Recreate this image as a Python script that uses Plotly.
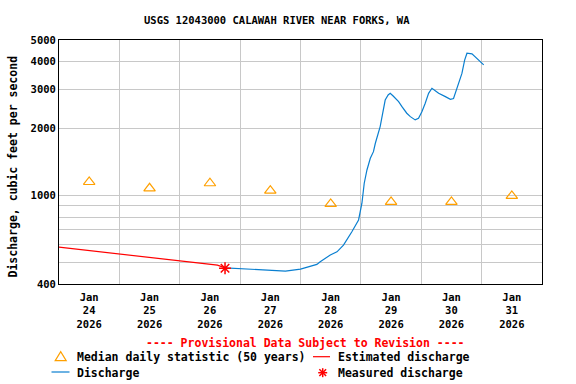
import plotly.graph_objects as go

# ---------------- data ----------------
est_time = ["2026-01-24 00:00", "2026-01-24 10:00", "2026-01-25 02:00",
            "2026-01-26 00:00", "2026-01-26 15:00", "2026-01-26 18:00"]
est_q = [586, 569, 542, 509, 486, 473]

meas_time = ["2026-01-26 18:00"]
meas_q = [471]

dis_time = ["2026-01-26 18:00", "2026-01-27 05:15", "2026-01-27 18:00",
            "2026-01-28 00:00", "2026-01-28 06:30", "2026-01-28 07:50",
            "2026-01-28 11:50", "2026-01-28 14:30", "2026-01-28 17:05",
            "2026-01-28 20:25", "2026-01-28 23:05", "2026-01-29 00:25",
            "2026-01-29 01:20", "2026-01-29 02:25", "2026-01-29 03:45",
            "2026-01-29 05:00", "2026-01-29 05:45", "2026-01-29 07:40",
            "2026-01-29 09:40", "2026-01-29 10:50", "2026-01-29 11:40",
            "2026-01-29 12:50", "2026-01-29 15:00", "2026-01-29 16:20",
            "2026-01-29 18:15", "2026-01-29 19:40", "2026-01-29 21:35",
            "2026-01-29 22:55", "2026-01-30 00:15", "2026-01-30 01:35",
            "2026-01-30 02:55", "2026-01-30 04:15", "2026-01-30 06:55",
            "2026-01-30 09:35", "2026-01-30 11:35", "2026-01-30 12:50",
            "2026-01-30 14:15", "2026-01-30 16:10", "2026-01-30 17:15",
            "2026-01-30 18:10", "2026-01-30 20:10", "2026-01-30 22:50",
            "2026-01-31 00:50"]
dis_q = [473, 467, 457,
         467, 490, 504,
         540, 558, 598,
         687, 776, 923,
         1135, 1302, 1469,
         1574, 1717, 2040,
         2686, 2832, 2879,
         2799, 2643, 2508,
         2343, 2262, 2187,
         2224, 2380, 2597,
         2879, 3033, 2879,
         2782, 2704, 2730,
         3033, 3537, 4063,
         4360, 4330, 4063,
         3866]

med_time = ["2026-01-24 12:00", "2026-01-25 12:00", "2026-01-26 12:00",
            "2026-01-27 12:00", "2026-01-28 12:00", "2026-01-29 12:00",
            "2026-01-30 12:00", "2026-01-31 12:00"]
med_q = [1150, 1077, 1135, 1051, 916, 935, 935, 995]

day_ticks = ["2026-01-%02d 12:00" % d for d in range(24, 32)]
day_labels = ["Jan<br>%d<br>2026" % d for d in range(24, 32)]
day_grid = ["2026-01-%02d" % d for d in range(25, 32)]

y_ticks = [400, 1000, 2000, 3000, 4000, 5000]
y_labels = ["400", "1000", "2000", "3000", "4000", "5000"]
y_minor = [500, 600, 700, 800, 900]

# ---------------- layout helpers ----------------
L, R, T, B = 59, 542, 40, 284
def px(x):
    return (x - L) / (R - L)
def py(y):
    return (B - y) / (B - T)

FONT = "DejaVu Sans Mono"
BLUE = "#0a7fd0"
RED = "#ff0000"
ORANGE = "#ffa000"
GRID = "#c8c8c8"

fig = go.Figure()

fig.add_trace(go.Scatter(x=est_time, y=est_q, mode="lines",
                         line=dict(color=RED, width=1.2), showlegend=False))
fig.add_trace(go.Scatter(x=dis_time, y=dis_q, mode="lines",
                         line=dict(color=BLUE, width=1.2), showlegend=False))
fig.add_trace(go.Scatter(x=med_time, y=med_q, mode="markers",
                         marker=dict(symbol="triangle-up-open", size=10, color=ORANGE,
                                     line=dict(color=ORANGE, width=1.2)),
                         showlegend=False))
fig.add_trace(go.Scatter(x=meas_time, y=meas_q, mode="markers",
                         marker=dict(symbol="asterisk-open", size=10, color=RED,
                                     line=dict(color=RED, width=1.5)),
                         showlegend=False))

# ---------------- legend (drawn as shapes + text) ----------------
def seg(x0, y0, x1, y1, color, w=1.2):
    return dict(type="line", xref="paper", yref="paper", x0=px(x0), x1=px(x1),
                y0=py(y0), y1=py(y1), line=dict(color=color, width=w))

tri_cx, tri_cy = 60.7, 356.7
tri_path = "M %f,%f L %f,%f L %f,%f Z" % (
    px(tri_cx - 5.5), py(tri_cy + 4), px(tri_cx + 5.5), py(tri_cy + 4),
    px(tri_cx), py(tri_cy - 5))
ast_cx, ast_cy, ar = 322.7, 372.7, 4.5
shapes = [
    seg(313, 356.7, 330, 356.7, RED),
    seg(51.5, 372, 69.5, 372, BLUE),
    dict(type="path", xref="paper", yref="paper", path=tri_path,
         line=dict(color=ORANGE, width=1.2)),
    seg(ast_cx - ar, ast_cy, ast_cx + ar, ast_cy, RED, 1.5),
    seg(ast_cx, ast_cy - ar, ast_cx, ast_cy + ar, RED, 1.5),
    seg(ast_cx - ar * 0.75, ast_cy - ar * 0.75, ast_cx + ar * 0.75, ast_cy + ar * 0.75, RED, 1.5),
    seg(ast_cx - ar * 0.75, ast_cy + ar * 0.75, ast_cx + ar * 0.75, ast_cy - ar * 0.75, RED, 1.5),
]

def txt(x, y, s, size=11.5, color="black", xanchor="left", angle=0):
    return dict(x=px(x), y=py(y), xref="paper", yref="paper", text=s, showarrow=False,
                xanchor=xanchor, yanchor="middle", textangle=angle,
                font=dict(family=FONT, size=size, color=color, weight="bold"))

annotations = [
    txt(277, 20, "USGS 12043000 CALAWAH RIVER NEAR FORKS, WA", size=10.5, xanchor="center"),
    txt(12, 166.5, "Discharge, cubic feet per second", size=11.5, xanchor="center", angle=-90),
    txt(305.5, 343.3, "---- Provisional Data Subject to Revision ----", size=11.5,
        color=RED, xanchor="center"),
    txt(74.5, 356.7, "Median daily statistic (50 years)"),
    txt(336, 356.7, "Estimated discharge"),
    txt(74.5, 372.7, "Discharge"),
    txt(336, 372.7, "Measured discharge"),
]

fig.update_layout(
    width=576, height=384,
    margin=dict(l=L, r=576 - R, t=T, b=384 - B, pad=0),
    paper_bgcolor="white", plot_bgcolor="white",
    showlegend=False,
    shapes=shapes, annotations=annotations,
    font=dict(family=FONT, size=10.5, color="black", weight="bold"),
    xaxis=dict(type="date", range=["2026-01-24", "2026-02-01"],
               tickmode="array", tickvals=day_ticks, ticktext=day_labels,
               showgrid=False, ticks="", showline=True, linecolor="black",
               linewidth=1, mirror=True, zeroline=False, ticklabelstandoff=3,
               tickfont=dict(family=FONT, size=10.5, weight="bold"),
               minor=dict(tickmode="array", tickvals=day_grid, showgrid=True,
                          gridcolor=GRID, gridwidth=1, ticks="")),
    yaxis=dict(type="log", range=[2.60206, 3.69897],
               tickmode="array", tickvals=y_ticks, ticktext=y_labels,
               showgrid=True, gridcolor=GRID, gridwidth=1, ticks="",
               showline=True, linecolor="black", linewidth=1, mirror=True,
               zeroline=False,
               tickfont=dict(family=FONT, size=10.5, weight="bold"),
               minor=dict(tickmode="array", tickvals=y_minor, showgrid=True,
                          gridcolor=GRID, gridwidth=1, ticks="")),
)

fig.write_html("out.html", config={"displayModeBar": False},
               post_script="document.body.style.margin='0';document.body.style.padding='0';")
